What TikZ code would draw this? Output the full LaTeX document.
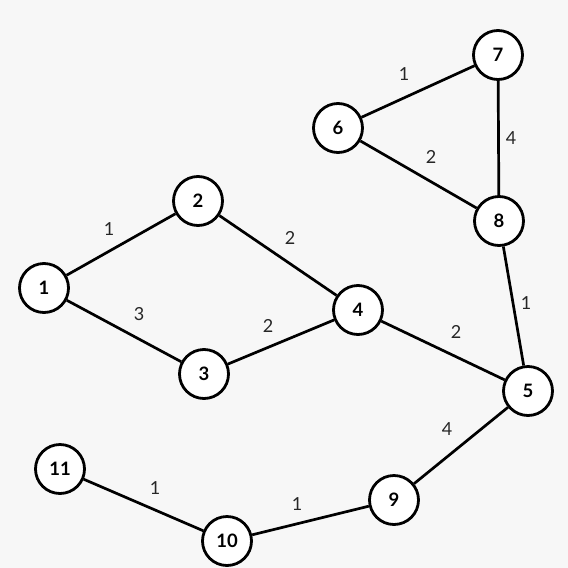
\documentclass[tikz,border=0pt]{standalone}
\usepackage{fontspec}
\setmainfont{Lato}
\usepackage{tikz}
\usetikzlibrary{positioning}

\begin{document}
\begin{tikzpicture}[
    x=1pt, y=-1pt,
    vertex/.style={circle, draw=black, fill=white, line width=2.8pt, minimum size=49pt, inner sep=0pt, font=\fontsize{18.5}{18.5}\selectfont\bfseries},
    edge/.style={line width=2.7pt},
    weight/.style={font=\fontsize{18}{18}\selectfont, text=black!85}
]
\fill[black!3] (0,0) rectangle (568,568);
\useasboundingbox (0,0) rectangle (568,568);

% vertices
\node[vertex] (n1) at (44,288) {1};
\node[vertex] (n2) at (198,201) {2};
\node[vertex] (n3) at (204,374) {3};
\node[vertex] (n4) at (358,310) {4};
\node[vertex] (n5) at (528,391) {5};
\node[vertex] (n6) at (338,128) {6};
\node[vertex] (n7) at (498,55) {7};
\node[vertex] (n8) at (499,221) {8};
\node[vertex] (n9) at (394,500) {9};
\node[vertex] (n10) at (227,541) {10};
\node[vertex] (n11) at (60,469) {11};

% edges
\draw[edge] (n1) -- (n2);
\draw[edge] (n1) -- (n3);
\draw[edge] (n2) -- (n4);
\draw[edge] (n3) -- (n4);
\draw[edge] (n4) -- (n5);
\draw[edge] (n6) -- (n7);
\draw[edge] (n6) -- (n8);
\draw[edge] (n7) -- (n8);
\draw[edge] (n8) -- (n5);
\draw[edge] (n5) -- (n9);
\draw[edge] (n9) -- (n10);
\draw[edge] (n10) -- (n11);

% weights
\node[weight] (w12) at (109,229) {1};
\node[weight] (w13) at (139,314) {3};
\node[weight] (w24) at (290,238) {2};
\node[weight] (w34) at (268,326) {2};
\node[weight] (w45) at (456,332) {2};
\node[weight] (w67) at (404,74) {1};
\node[weight] (w68) at (431,157) {2};
\node[weight] (w78) at (511,138) {4};
\node[weight] (w85) at (526,303) {1};
\node[weight] (w59) at (447,429) {4};
\node[weight] (w910) at (297,504) {1};
\node[weight] (w1011) at (155,488) {1};

\end{tikzpicture}
\end{document}
